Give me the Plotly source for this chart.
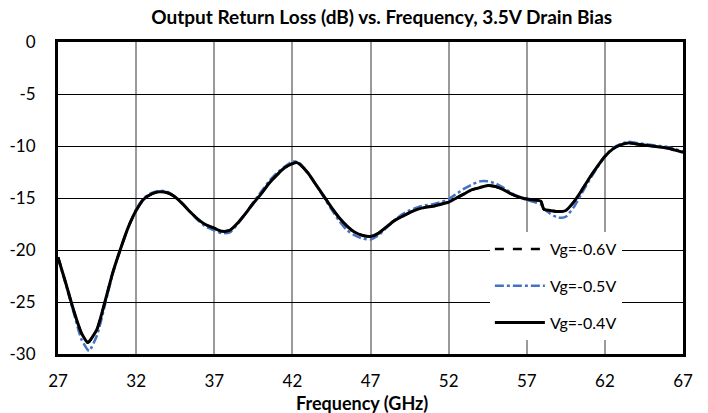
import plotly.graph_objects as go

freq = [27.0, 27.5, 28.0, 28.5, 28.9, 29.0, 29.5, 30.0, 30.5, 31.0, 31.5, 32.0, 32.5, 33.0, 33.5,
        34.0, 34.5, 35.0, 35.5, 36.0, 36.5, 37.0, 37.5, 38.0, 38.5, 39.0, 39.5, 40.0, 40.5,
        41.0, 41.5, 42.0, 42.3, 42.5, 43.0, 43.5, 44.0, 44.5, 45.0, 45.5, 46.0, 46.5, 47.0,
        47.5, 48.0, 48.5, 49.0, 49.5, 50.0, 50.5, 51.0, 51.5, 52.0, 52.5, 53.0, 53.5, 54.0,
        54.5, 55.0, 55.5, 56.0, 56.5, 57.0, 57.5, 57.9, 58.1, 58.5, 59.0, 59.5, 60.0, 60.5,
        61.0, 61.5, 62.0, 62.5, 63.0, 63.5, 64.0, 64.5, 65.0, 65.5, 66.0, 66.5, 67.0]

vg_m06 = [-20.7, -23.2, -25.8, -28.0, -28.9, -28.8, -27.6, -25.0, -22.2, -19.9, -17.8, -16.2, -15.1, -14.6, -14.4,
          -14.5, -14.9, -15.6, -16.4, -17.1, -17.6, -17.9, -18.2, -18.1, -17.4, -16.5, -15.5, -14.6, -13.6,
          -12.8, -12.1, -11.7, -11.6, -11.8, -12.6, -13.7, -14.8, -15.9, -16.9, -17.7, -18.3, -18.6, -18.7,
          -18.4, -17.8, -17.2, -16.8, -16.4, -16.1, -15.9, -15.8, -15.6, -15.4, -15.0, -14.6, -14.2, -14.0,
          -13.8, -13.9, -14.2, -14.6, -14.9, -15.1, -15.2, -15.3, -16.1, -16.2, -16.3, -16.2, -15.4, -14.3,
          -13.1, -12.0, -11.0, -10.3, -9.9, -9.7, -9.8, -9.9, -10.0, -10.1, -10.2, -10.4, -10.6]

vg_m05 = [-20.7, -23.3, -26.0, -28.6, -29.6, -29.7, -28.2, -25.3, -22.3, -19.9, -17.8, -16.1, -15.0, -14.5, -14.3,
          -14.4, -14.9, -15.6, -16.4, -17.2, -17.8, -18.1, -18.4, -18.3, -17.5, -16.5, -15.4, -14.4, -13.4,
          -12.6, -12.0, -11.5, -11.5, -11.7, -12.6, -13.7, -14.9, -16.1, -17.2, -18.1, -18.6, -18.9, -19.0,
          -18.6, -17.9, -17.2, -16.6, -16.2, -15.9, -15.7, -15.6, -15.4, -15.1, -14.6, -14.1, -13.7, -13.4,
          -13.4, -13.6, -14.0, -14.5, -14.9, -15.2, -15.4, -15.6, -16.0, -16.5, -16.9, -16.8, -15.9, -14.6,
          -13.3, -12.1, -11.0, -10.2, -9.8, -9.6, -9.7, -9.8, -9.9, -10.0, -10.1, -10.3, -10.5]

vg_m04 = [-20.7, -23.2, -25.8, -28.0, -28.9, -28.8, -27.6, -25.0, -22.2, -19.9, -17.8, -16.2, -15.1, -14.6, -14.4,
          -14.5, -14.9, -15.6, -16.4, -17.1, -17.6, -17.9, -18.2, -18.1, -17.4, -16.5, -15.5, -14.6, -13.6,
          -12.8, -12.1, -11.7, -11.6, -11.8, -12.6, -13.7, -14.8, -15.9, -16.9, -17.7, -18.3, -18.6, -18.7,
          -18.4, -17.8, -17.2, -16.8, -16.4, -16.1, -15.9, -15.8, -15.6, -15.4, -15.0, -14.6, -14.2, -14.0,
          -13.8, -13.9, -14.2, -14.6, -14.9, -15.1, -15.2, -15.3, -16.1, -16.2, -16.3, -16.2, -15.4, -14.3,
          -13.1, -12.0, -11.0, -10.3, -9.9, -9.7, -9.8, -9.9, -10.0, -10.1, -10.2, -10.4, -10.6]

series_names = ["Vg=-0.6V", "Vg=-0.5V", "Vg=-0.4V"]
x_ticks = [27, 32, 37, 42, 47, 52, 57, 62, 67]
y_ticks = [0, -5, -10, -15, -20, -25, -30]

FONT = "Lato"

fig = go.Figure()
fig.add_trace(go.Scatter(x=freq, y=vg_m06, mode="lines", name=series_names[0], legendgroup="a",
                         line=dict(color="black", width=2.5, dash="dash", shape="spline", smoothing=0.6)))
fig.add_trace(go.Scatter(x=freq, y=vg_m05, mode="lines", name=series_names[1], legendgroup="b",
                         line=dict(color="#4472C4", width=2.5, dash="dashdot", shape="spline", smoothing=0.6)))
fig.add_trace(go.Scatter(x=freq, y=vg_m04, mode="lines", name=series_names[2], legendgroup="c",
                         line=dict(color="black", width=3, shape="spline", smoothing=0.6)))

fig.update_layout(
    width=708, height=413,
    margin=dict(l=58, r=25, t=42, b=59, autoexpand=False),
    paper_bgcolor="white", plot_bgcolor="white",
    font=dict(family=FONT, size=17, color="black"),
    title=dict(text="<b>Output Return Loss (dB) vs. Frequency, 3.5V Drain Bias</b>",
               x=0.518, xref="paper", xanchor="center", y=0.958, yanchor="middle",
               font=dict(family=FONT, size=19, color="black")),
    showlegend=True,
    legend=dict(x=0.691, y=0.391, xanchor="left", yanchor="top", bgcolor="white",
                borderwidth=0, font=dict(family=FONT, size=16, color="black"),
                tracegroupgap=13, traceorder="grouped", itemwidth=50),
    xaxis=dict(range=[27, 67], tickvals=x_ticks, ticktext=[str(v) for v in x_ticks],
               showgrid=True, gridcolor="#9a9a9a", gridwidth=1.5,
               showline=True, linecolor="black", linewidth=3, mirror=True, automargin=False,
               ticks="", ticklabelstandoff=10, zeroline=False, tickfont=dict(size=17)),
    yaxis=dict(range=[-30, 0], tickvals=y_ticks, ticktext=[str(v) for v in y_ticks],
               showgrid=True, gridcolor="black", gridwidth=1,
               showline=True, linecolor="black", linewidth=3, mirror=True, automargin=False,
               ticks="", ticklabelstandoff=16, zeroline=False, tickfont=dict(size=17)),
)

fig.add_annotation(text="<b>Frequency (GHz)</b>", xref="paper", yref="paper",
                   x=0.487, y=-0.158, xanchor="center", yanchor="middle", showarrow=False,
                   font=dict(family=FONT, size=18, color="black"))

fig.write_html("out.html", config={"displayModeBar": False},
               post_script="document.body.style.margin='0';document.body.style.padding='0';")
